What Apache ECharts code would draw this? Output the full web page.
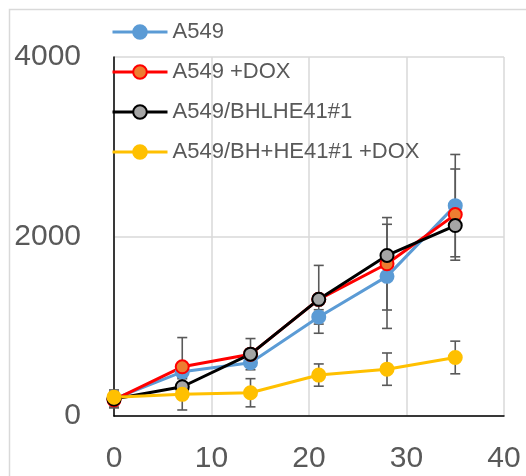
<!DOCTYPE html>
<html><head><meta charset="utf-8">
<script src="https://cdn.jsdelivr.net/npm/echarts@6/dist/echarts.min.js"></script>
<style>html,body{margin:0;padding:0;background:#fff}#c{width:526px;height:476px}</style>
</head><body><div id="c"></div>
<script>
const days = [0, 7, 14, 21, 28, 35];
const names = ['A549', 'A549 +DOX', 'A549/BHLHE41#1', 'A549/BH+HE41#1 +DOX'];
const a549 = [190, 492, 593, 1104, 1556, 2344];
const a549Dox = [180, 548, 689, 1300, 1696, 2244];
const bhlhe = [190, 326, 689, 1300, 1789, 2122];
const bhlheDox = [210, 241, 259, 456, 522, 652];
const a549Err = [100, 60, 30, 80, 580, 570];
const a549DoxErr = [80, 326, 174, 378, 515, 508];
const bhlheErr = [50, 40, 40, 40, 40, 40];
const bhlheDoxErr = [60, 174, 157, 124, 180, 182];
const xTicks = [0, 10, 20, 30, 40];
const yTicks = [0, 2000, 4000];

const lineColors = ['#5B9BD5', '#FF0000', '#000000', '#FFC000'];
const fillColors = ['#5B9BD5', '#ED7D31', '#A5A5A5', '#FFC000'];
const values = [a549, a549Dox, bhlhe, bhlheDox];
const errs = [a549Err, a549DoxErr, bhlheErr, bhlheDoxErr];

const errSeries = values.map((vals, i) => ({
  type: 'custom',
  z: 1,
  silent: true,
  data: days.map((d, k) => [d, vals[k] - errs[i][k], vals[k] + errs[i][k]]),
  renderItem: function (params, api) {
    const lo = api.coord([api.value(0), api.value(1)]);
    const hi = api.coord([api.value(0), api.value(2)]);
    const w = 5;
    const st = { stroke: '#595959', lineWidth: 1.6 };
    return {
      type: 'group',
      children: [
        { type: 'line', shape: { x1: lo[0], y1: lo[1], x2: hi[0], y2: hi[1] }, style: st },
        { type: 'line', shape: { x1: lo[0] - w, y1: lo[1], x2: lo[0] + w, y2: lo[1] }, style: st },
        { type: 'line', shape: { x1: hi[0] - w, y1: hi[1], x2: hi[0] + w, y2: hi[1] }, style: st }
      ]
    };
  }
}));

const lineSeries = values.map((vals, i) => ({
  name: names[i],
  type: 'line',
  z: 3,
  data: days.map((d, k) => [d, vals[k]]),
  symbol: 'circle',
  symbolSize: 13,
  lineStyle: { color: lineColors[i], width: 3 },
  itemStyle: { color: fillColors[i], borderColor: lineColors[i], borderWidth: 2 }
}));

const chart = echarts.init(document.getElementById('c'));
chart.setOption({
  animation: false,
  backgroundColor: '#fff',
  graphic: [{
    type: 'rect', z: -10,
    shape: { x: 9.5, y: 9.5, width: 700, height: 700 },
    style: { fill: 'none', stroke: '#D9D9D9', lineWidth: 1.5 }
  }],
  grid: { left: 114, right: 22, top: 57, bottom: 60 },
  legend: {
    orient: 'vertical',
    left: 106, top: 16,
    itemWidth: 55, itemHeight: 17, itemGap: 18,
    data: names.map((n, i) => ({ name: n, lineStyle: { width: 3, color: lineColors[i] } })),
    lineStyle: { width: 3 },
    textStyle: { fontFamily: 'Liberation Sans', fontSize: 22, color: '#595959' }
  },
  xAxis: {
    type: 'value', min: 0, max: 40, interval: 10,
    axisLine: { show: true, lineStyle: { color: '#000', width: 1.5 } },
    axisTick: { show: false },
    splitLine: { show: true, lineStyle: { color: '#D9D9D9', width: 1.5 } },
    axisLabel: { fontFamily: 'Liberation Sans', fontSize: 30, color: '#595959', margin: 28,
      formatter: v => xTicks.includes(v) ? String(v) : '' }
  },
  yAxis: {
    type: 'value', min: 0, max: 4000, interval: 2000,
    axisLine: { show: true, lineStyle: { color: '#000', width: 1.5 } },
    axisTick: { show: false },
    splitLine: { show: true, lineStyle: { color: '#D9D9D9', width: 1.5 } },
    axisLabel: { fontFamily: 'Liberation Sans', fontSize: 30, color: '#595959', margin: 33,
      formatter: v => yTicks.includes(v) ? String(v) : '' }
  },
  series: errSeries.concat(lineSeries)
});
</script></body></html>
